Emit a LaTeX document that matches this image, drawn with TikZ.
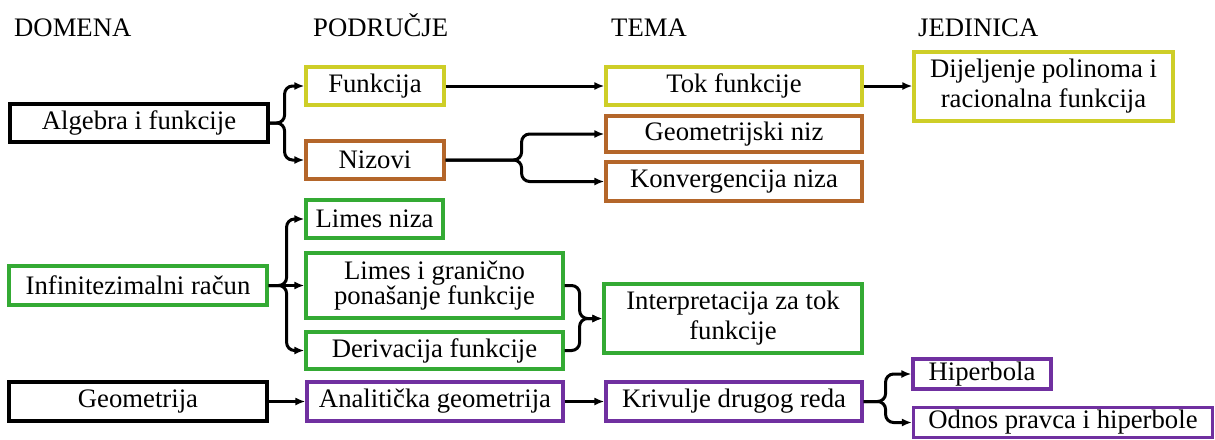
\documentclass[tikz,border=0pt]{standalone}
\usepackage{fontspec}
\setmainfont{Liberation Serif}
\usepackage{tikz}
\usetikzlibrary{arrows.meta, positioning}

\definecolor{ylw}{RGB}{206,206,40}
\definecolor{brn}{RGB}{180,102,42}
\definecolor{grn}{RGB}{52,170,52}
\definecolor{prp}{RGB}{112,48,160}

\begin{document}
\begin{tikzpicture}[
  x=1pt, y=-1pt,
  font=\fontsize{26.7pt}{30pt}\selectfont,
  head/.style={anchor=base west, inner sep=0pt},
  box/.style={
    draw=#1,
    line width=3.2pt,
    fill=white,
    inner sep=0pt,
    align=center,
    minimum height=38pt
    },
  box/.default=black,
  conn/.style={
    line width=3pt,
    rounded corners=8pt,
    -{Latex[length=10pt,width=8pt]}
    }
]
\useasboundingbox (0,0) rectangle (1215,439);

% headings
\node[head] (hdom) at (14,36) {DOMENA};
\node[head] (hpod) at (313,36) {PODRUČJE};
\node[head] (htem) at (611,36) {TEMA};
\node[head] (hjed) at (918,36) {JEDINICA};

% algebra
\node[box, minimum width=258pt] (algebra) at (139,123) {Algebra i funkcije};
\node[box=ylw, minimum width=138pt] (funkcija) at (375,86) {Funkcija};
\node[box=brn, minimum width=138pt] (nizovi) at (375,160) {Nizovi};
\node[box=ylw, minimum width=256pt] (tok) at (734,86) {Tok funkcije};
\node[box=brn, minimum width=256pt, minimum height=36pt] (geomniz) at (734,134) {Geometrijski niz};
\node[box=brn, minimum width=256pt, minimum height=39pt] (konv) at (734,181.5) {Konvergencija niza};
\node[box=ylw, minimum width=259pt, minimum height=69pt] (dijeljenje) at (1043.5,86.5)
  {Dijeljenje polinoma i\\racionalna funkcija};

% infinitezimalni racun
\node[box=grn, minimum width=258pt, minimum height=39pt] (infini) at (138,285.5) {Infinitezimalni račun};
\node[box=grn, minimum width=137pt] (limniz) at (374.5,219) {Limes niza};
\node[box=grn, minimum width=257pt, minimum height=65pt, font=\fontsize{26.7pt}{24pt}\selectfont]
  (limgr) at (434.5,285.5) {Limes i granično\\ponašanje funkcije};
\node[box=grn, minimum width=257pt, minimum height=37pt] (deriv) at (434.5,350.5) {Derivacija funkcije};
\node[box=grn, minimum width=258pt, minimum height=69pt] (interp) at (733,318.5)
  {Interpretacija za tok\\funkcije};

% geometrija
\node[box, minimum width=258pt, minimum height=39pt] (geometrija) at (138,401.5) {Geometrija};
\node[box=prp, minimum width=256pt, minimum height=39pt] (analit) at (435,401.5) {Analitička geometrija};
\node[box=prp, minimum width=256pt, minimum height=39pt] (krivulje) at (734,401.5) {Krivulje drugog reda};
\node[box=prp, minimum width=138pt, minimum height=30pt] (hiperbola) at (982,374) {Hiperbola};
\node[box=prp, minimum width=299pt, minimum height=30pt] (odnos) at (1063,422.5) {Odnos pravca i hiperbole};

% connectors
\draw[conn] (algebra.east) -- ++(15,0) |- (funkcija.west);
\draw[conn] (algebra.east) -- ++(15,0) |- (nizovi.west);
\draw[conn] (funkcija.east) -- (tok.west);
\draw[conn] (tok.east) -- (tok.east -| dijeljenje.west);
\draw[conn] (nizovi.east) -- ++(76,0) |- (geomniz.west);
\draw[conn] (nizovi.east) -- ++(76,0) |- (konv.west);

\draw[conn] (infini.east) -- ++(18,0) |- (limniz.west);
\draw[conn] (infini.east) -- (limgr.west);
\draw[conn] (infini.east) -- ++(18,0) |- (deriv.west);
\draw[conn] (limgr.east) -- ++(15,0) |- (interp.west);
\draw[conn] (deriv.east) -- ++(15,0) |- (interp.west);

\draw[conn] (geometrija.east) -- (analit.west);
\draw[conn] (analit.east) -- (krivulje.west);
\draw[conn] (krivulje.east) -- ++(22,0) |- (hiperbola.west);
\draw[conn] (krivulje.east) -- ++(22,0) |- (odnos.west);

\end{tikzpicture}
\end{document}
